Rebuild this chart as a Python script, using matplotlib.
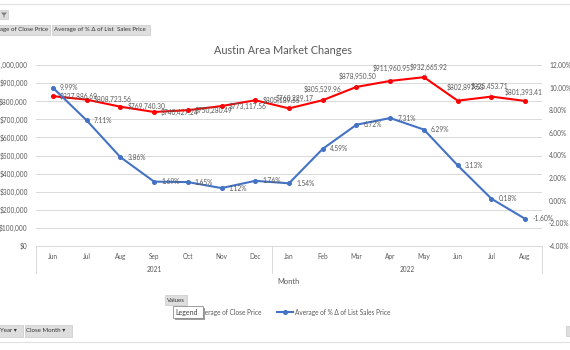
import matplotlib
matplotlib.use("Agg")
import matplotlib.pyplot as plt
from matplotlib.lines import Line2D
from matplotlib.patches import Rectangle, Polygon

# ---- data ----
months = ["Jun", "Jul", "Aug", "Sep", "Oct", "Nov", "Dec",
          "Jan", "Feb", "Mar", "Apr", "May", "Jun", "Jul", "Aug"]
years = ["2021", "2022"]
year_counts = [7, 8]
close_price = [827886.69, 808723.56, 769740.30, 740427.24, 750280.49, 773117.56, 805189.55,
               760229.17, 805529.96, 878950.50, 911960.95, 932665.92, 802897.58, 825453.71, 801393.41]
pct_delta = [9.99, 7.11, 3.86, 1.69, 1.65, 1.12, 1.76,
             1.54, 4.59, 6.72, 7.31, 6.29, 3.13, 0.18, -1.60]

# label offsets for the red series (pixels), Excel moved the 2022 ones above the line
red_offsets = [(7, 0)] * 7 + [(6, 10), (0, 11), (1, 11), (1, 13), (5, 10), (8, 13), (-2, 10), (-2, 9)]

TXT = "#595959"
GRID = "#D9D9D9"
RED = "#FF0000"
BLUE = "#4472C4"
FONT = "Lato"

plt.rcParams["font.family"] = [FONT, "DejaVu Sans"]

W, H = 570, 350
fig = plt.figure(figsize=(W / 100, H / 100), dpi=100)

def fx(x):
    return x / W

def fy(y):
    return 1 - y / H

ax = fig.add_axes([fx(36), fy(246), 506 / W, 181 / H])
ax2 = ax.twinx()

x = list(range(len(months)))

# --- primary: close price ---
ax.plot(x, close_price, color=RED, lw=1.5, marker="o", ms=2.6, zorder=3)
ax.set_ylim(0, 1000000)
ax.set_yticks(range(0, 1000001, 100000))
ax.set_yticklabels([f"${v:,.0f}" for v in range(0, 1000001, 100000)])
ax.set_xlim(-0.5, len(months) - 0.5)
ax.grid(axis="y", color=GRID, lw=0.7)
ax.set_axisbelow(True)
for s in ax.spines.values():
    s.set_visible(False)
ax.tick_params(axis="y", length=0, pad=6, labelsize=4.7, labelcolor=TXT)
ax.set_xticks(x)
ax.set_xticklabels(months)
ax.tick_params(axis="x", length=0, pad=5, labelsize=4.7, labelcolor=TXT)

for i, v in enumerate(close_price):
    dx, dy = red_offsets[i]
    if i < 7:
        ax.annotate(f"${v:,.2f}", (i, v), xytext=(dx, dy), textcoords="offset pixels",
                    ha="left", va="center", fontsize=4.8, color=TXT, zorder=5)
    else:
        ax.annotate(f"${v:,.2f}", (i, v), xytext=(dx, dy), textcoords="offset pixels",
                    ha="center", va="center", fontsize=4.8, color=TXT, zorder=5,
                    arrowprops=dict(arrowstyle="-", color="#A6A6A6", lw=0.4,
                                    shrinkA=3, shrinkB=1))

# --- secondary: % delta ---
ax2.plot(x, pct_delta, color=BLUE, lw=1.5, marker="o", ms=2.6, zorder=3)
ax2.set_ylim(-4, 12)
ax2.set_yticks(range(-4, 13, 2))
ax2.set_yticklabels([f"{v:.2f}%" for v in range(-4, 13, 2)])
for s in ax2.spines.values():
    s.set_visible(False)
ax2.tick_params(axis="y", length=0, pad=5, labelsize=4.7, labelcolor=TXT)
for i, v in enumerate(pct_delta):
    ax2.annotate(f"{v:.2f}%", (i, v), xytext=(7, 0), textcoords="offset pixels",
                 ha="left", va="center", fontsize=4.8, color=TXT, zorder=5)

# --- multi-level category axis ---
tr = ax.get_xaxis_transform()
ax.plot([-0.5, 14.5], [0, 0], color=GRID, lw=0.7, transform=tr, clip_on=False)
start = -0.5
for yr, n in zip(years, year_counts):
    ax.text(start + n / 2, -24 / 181, yr, transform=tr, ha="center", va="center",
            fontsize=4.7, color=TXT)
    start += n
for xb in [-0.5, 6.5, 14.5]:
    ax.plot([xb, xb], [0, -27 / 181], color=GRID, lw=0.7, transform=tr, clip_on=False)
ax.text(0.5, -36 / 181, "Month", transform=ax.transAxes, ha="center", va="center",
        fontsize=5.4, color=TXT)

fig.text(fx(283), fy(50), "Austin Area Market Changes", ha="center", va="center",
         fontsize=7.8, color=TXT)

# --- legend (red entry sits under the "Legend" tooltip) ---
ly = fy(312)
fig.add_artist(Line2D([fx(178), fx(186.5), fx(195)], [ly, ly, ly], color=RED, lw=1.5,
                      marker="o", ms=2.6, markevery=[1], transform=fig.transFigure))
fig.text(fx(197), ly, "Average of Close Price", ha="left", va="center", fontsize=4.7, color=TXT)
fig.add_artist(Line2D([fx(277), fx(285), fx(293)], [ly, ly, ly], color=BLUE, lw=1.5,
                      marker="o", ms=2.6, markevery=[1], transform=fig.transFigure))
fig.text(fx(295), ly, "Average of % \u0394 of List Sales Price", ha="left", va="center",
         fontsize=4.7, color=TXT)


# --- pivot chart field buttons ---
def button(x0, y0, x1, y1, label, fs=4.4):
    fig.add_artist(Rectangle((fx(x0), fy(y1)), fx(x1) - fx(x0), fy(y0) - fy(y1),
                             facecolor="#DEDEDE", edgecolor="#C8C8C8", lw=0.5,
                             transform=fig.transFigure))
    if label:
        fig.text(fx(x0 + 1.5), fy((y0 + y1) / 2), label, ha="left", va="center",
                 fontsize=fs, color="#333333")


fig.add_artist(Line2D([0, 1], [fy(4), fy(4)], color="#E0E0E0", lw=0.8, transform=fig.transFigure))
fig.add_artist(Line2D([0, 1], [fy(342), fy(342)], color="#E0E0E0", lw=0.8, transform=fig.transFigure))

button(-2, 10, 8, 19, "")
fig.add_artist(Polygon([(fx(1), fy(12.5)), (fx(7), fy(12.5)), (fx(4.5), fy(15.5)),
                        (fx(4.5), fy(17.5)), (fx(3.5), fy(17.5)), (fx(3.5), fy(15.5))],
                       closed=True, facecolor="#7F7F7F", edgecolor="none",
                       transform=fig.transFigure))
button(-2, 25, 50, 35, "age of Close Price")
button(52, 25, 150, 35, "Average of % \u0394 of List  Sales Price")
button(-2, 325, 23, 337, "Year \u25be")
button(25, 325, 72, 337, "Close Month \u25be")
button(566, 326, 572, 336, "")
button(165, 295, 187, 305, "Values")

# "Legend" tooltip, drawn on top of the legend
fig.add_artist(Rectangle((fx(174.5), fy(319.5)), fx(30), 12 / H, facecolor="#A0A0A0",
                         edgecolor="none", transform=fig.transFigure, zorder=10))
fig.add_artist(Rectangle((fx(173), fy(318)), fx(30), 12 / H, facecolor="white",
                         edgecolor="#767676", lw=0.5, transform=fig.transFigure, zorder=11))
fig.text(fx(175.5), fy(312), "Legend", ha="left", va="center", fontsize=5, color="#404040",
         zorder=12)

fig.savefig("out.png", dpi=100)
